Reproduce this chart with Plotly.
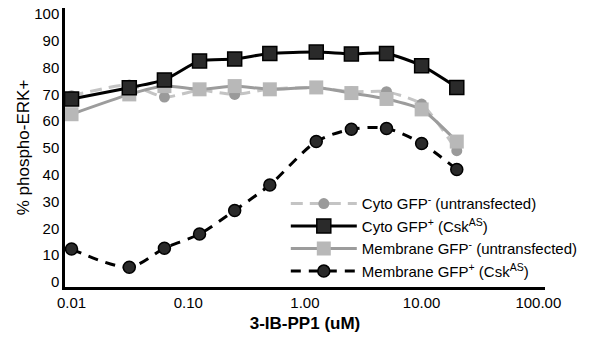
import plotly.graph_objects as go

conc = [0.01, 0.03125, 0.0625, 0.125, 0.25, 0.5, 1.25, 2.5, 5, 10, 20]
cyto_neg = [69.5, 73.5, 69.0, 71.5, 70.0, 72.0, 72.5, 71.0, 71.0, 66.4, 49.0]
cyto_pos = [68.3, 72.5, 75.4, 82.5, 83.2, 85.3, 85.8, 85.1, 85.3, 80.7, 72.6]
memb_neg = [62.6, 70.0, 73.1, 71.9, 73.1, 71.9, 72.6, 70.5, 68.3, 64.4, 52.4]
memb_pos = [12.3, 5.5, 12.6, 17.9, 26.7, 36.2, 52.4, 57.0, 57.3, 51.7, 42.0]

x_ticks = [0.01, 0.1, 1, 10, 100]
x_ticktext = ["0.01", "0.10", "1.00", "10.00", "100.00"]
y_ticks = list(range(0, 101, 10))

names = [
    "Cyto GFP<sup>-</sup> (untransfected)",
    "Cyto GFP<sup>+</sup> (Csk<sup>AS</sup>)",
    "Membrane GFP<sup>-</sup> (untransfected)",
    "Membrane GFP<sup>+</sup> (Csk<sup>AS</sup>)",
]

FONT = "Liberation Sans, Arial, sans-serif"

fig = go.Figure()
fig.add_trace(go.Scatter(
    x=conc, y=cyto_neg, name=names[0], mode="lines+markers", legendrank=1,
    line=dict(color="#c4c4c4", width=3, dash="12px,7px", shape="spline", smoothing=0.6),
    marker=dict(symbol="circle", size=11, color="#9a9a9a", line=dict(width=0)),
))
fig.add_trace(go.Scatter(
    x=conc, y=memb_neg, name=names[2], mode="lines+markers", legendrank=3,
    line=dict(color="#9c9c9c", width=3, shape="spline", smoothing=0.6),
    marker=dict(symbol="square", size=14, color="#b8b8b8", line=dict(width=0)),
))
fig.add_trace(go.Scatter(
    x=conc, y=cyto_pos, name=names[1], mode="lines+markers", legendrank=2,
    line=dict(color="#000000", width=3, shape="spline", smoothing=0.6),
    marker=dict(symbol="square", size=14, color="#2a2a2a", line=dict(width=1.5, color="#000000")),
))
fig.add_trace(go.Scatter(
    x=conc, y=memb_pos, name=names[3], mode="lines+markers", legendrank=4,
    line=dict(color="#000000", width=3, dash="10px,8px", shape="spline", smoothing=0.8),
    marker=dict(symbol="circle", size=12, color="#2a2a2a", line=dict(width=1.5, color="#000000")),
))

fig.update_layout(
    width=602, height=343,
    margin=dict(l=65, r=57, t=8, b=56),
    paper_bgcolor="white", plot_bgcolor="white",
    font=dict(family=FONT, size=15, color="#000000"),
    legend=dict(
        x=0.46, y=0.178, xanchor="left", yanchor="middle",
        itemwidth=66,
        font=dict(size=15), bgcolor="rgba(0,0,0,0)",
    ),
    xaxis=dict(
        type="log", range=[-2.056, 2.057], automargin=False,
        tickvals=x_ticks, ticktext=x_ticktext,
        showgrid=False, zeroline=False,
        showline=True, linecolor="#000000", linewidth=2.5,
        ticks="", tickfont=dict(size=15),
        title=dict(text="<b>3-IB-PP1 (uM)</b>", font=dict(size=17), standoff=8),
    ),
    yaxis=dict(
        range=[-1.87, 102.24], tickvals=y_ticks, automargin="left",
        showgrid=False, zeroline=False,
        showline=True, linecolor="#000000", linewidth=2.5,
        ticks="", tickfont=dict(size=15),
        title=dict(text="% phospho-ERK+", font=dict(size=17), standoff=1),
    ),
)

fig.write_html("out.html", config={"displayModeBar": False},
               post_script="document.body.style.margin='0px';")
